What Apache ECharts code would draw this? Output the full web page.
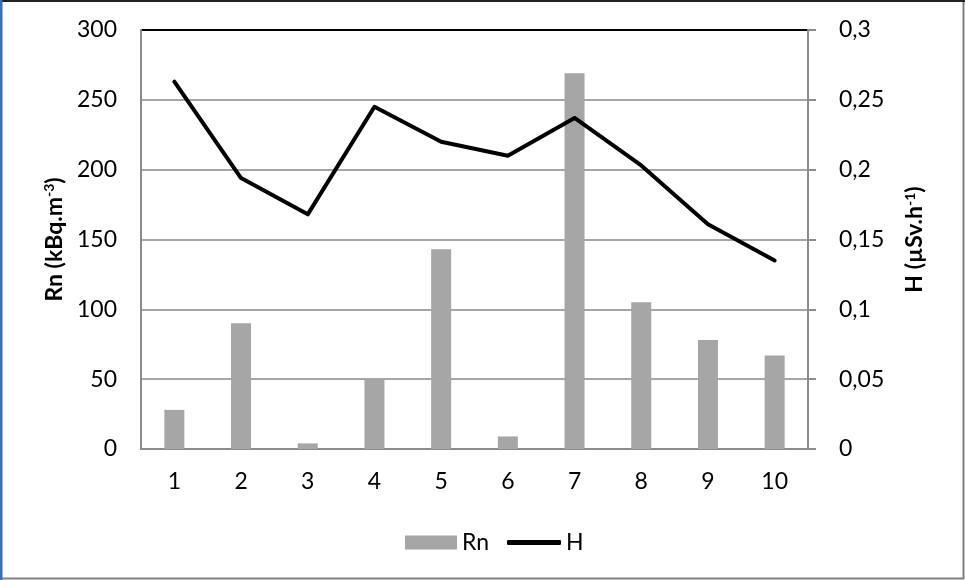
<!DOCTYPE html>
<html>
<head>
<meta charset="utf-8">
<script src="https://cdn.jsdelivr.net/npm/echarts@6/dist/echarts.min.js"></script>
<style>
  html, body { margin: 0; padding: 0; background: #fff; }
  #chart { width: 965px; height: 580px; }
</style>
</head>
<body>
<div id="chart"></div>
<script>
// Sample points 1..10
const categories = ['1', '2', '3', '4', '5', '6', '7', '8', '9', '10'];
// Radon concentration, kBq.m-3
const rnValues = [28, 90, 4, 50, 143, 9, 269, 105, 78, 67];
// Dose rate, µSv.h-1
const hValues = [0.263, 0.194, 0.168, 0.245, 0.22, 0.21, 0.237, 0.203, 0.161, 0.135];

const FONT = 'Lato';
const axisGray = '#8c8c8c';
const gridGray = '#a6a6a6';
const LABEL_SIZE = 23;

const nameRich = {
  b: { fontFamily: FONT, fontWeight: 'bold', fontSize: 23, color: '#000' },
  s: { fontFamily: FONT, fontWeight: 'bold', fontSize: 14, color: '#000', verticalAlign: 'top', padding: [0, 0, 10, 0] }
};

const chart = echarts.init(document.getElementById('chart'), null, { renderer: 'canvas' });

chart.setOption({
  animation: false,
  backgroundColor: '#fff',
  textStyle: { fontFamily: FONT, color: '#000' },
  graphic: [
    { type: 'rect', shape: { x: 0.5, y: 0.5, width: 963, height: 578 },
      style: { fill: null, stroke: '#808080', lineWidth: 2 }, silent: true },
    { type: 'line', shape: { x1: 0, y1: 1, x2: 965, y2: 1 },
      style: { stroke: '#222', lineWidth: 2 }, silent: true },
    { type: 'line', shape: { x1: 1, y1: 0, x2: 1, y2: 580 },
      style: { stroke: '#3a6fb6', lineWidth: 3 }, silent: true }
  ],
  grid: { left: 141, right: 157, top: 30, bottom: 131, containLabel: false },
  legend: [
    {
      data: [{ name: 'Rn', icon: 'rect' }],
      left: 400, top: 526,
      itemWidth: 52, itemHeight: 14, itemGap: 10,
      textStyle: { fontFamily: FONT, fontSize: LABEL_SIZE, color: '#000' }
    },
    {
      data: [{ name: 'H', icon: 'roundRect' }],
      left: 502, top: 526,
      itemWidth: 54, itemHeight: 5,
      itemStyle: { color: '#000', borderWidth: 0 },
      textStyle: { fontFamily: FONT, fontSize: LABEL_SIZE, color: '#000' }
    }
  ],
  xAxis: {
    type: 'category',
    data: categories,
    axisLine: { show: true, lineStyle: { color: axisGray, width: 2 } },
    axisTick: { show: false },
    axisLabel: { margin: 21, fontSize: LABEL_SIZE, fontFamily: FONT, color: '#000' },
    splitLine: { show: false }
  },
  yAxis: [
    {
      type: 'value', min: 0, max: 300, interval: 50,
      name: '{b|Rn (kBq.m}{s|-3}{b|)}',
      nameLocation: 'middle', nameRotate: 90, nameGap: 74,
      nameTextStyle: { rich: nameRich },
      axisLine: { show: true, lineStyle: { color: axisGray, width: 2 } },
      axisTick: { show: false },
      axisLabel: { margin: 24, fontSize: LABEL_SIZE, fontFamily: FONT, color: '#000' },
      splitLine: { show: true, lineStyle: { color: [gridGray, gridGray, gridGray, gridGray, gridGray, gridGray, '#000'], width: 2 } }
    },
    {
      type: 'value', min: 0, max: 0.3, interval: 0.05,
      position: 'right',
      name: '{b|H (µSv.h}{s|-1}{b|)}',
      nameLocation: 'middle', nameRotate: 90, nameGap: 95,
      nameTextStyle: { rich: nameRich },
      axisLine: { show: true, lineStyle: { color: axisGray, width: 2 } },
      axisTick: { show: true, length: 8, inside: false, lineStyle: { color: axisGray, width: 2 } },
      axisLabel: {
        margin: 31, fontSize: LABEL_SIZE, fontFamily: FONT, color: '#000',
        formatter: v => String(+v.toFixed(2)).replace('.', ',')
      },
      splitLine: { show: false }
    }
  ],
  series: [
    {
      name: 'Rn', type: 'bar', yAxisIndex: 0,
      data: rnValues, barWidth: '30%',
      itemStyle: { color: '#a6a6a6' }
    },
    {
      name: 'H', type: 'line', yAxisIndex: 1,
      data: hValues, symbol: 'none',
      lineStyle: { color: '#000', width: 4, cap: 'round', join: 'round' },
      itemStyle: { color: '#000' }
    }
  ]
});
</script>
</body>
</html>
